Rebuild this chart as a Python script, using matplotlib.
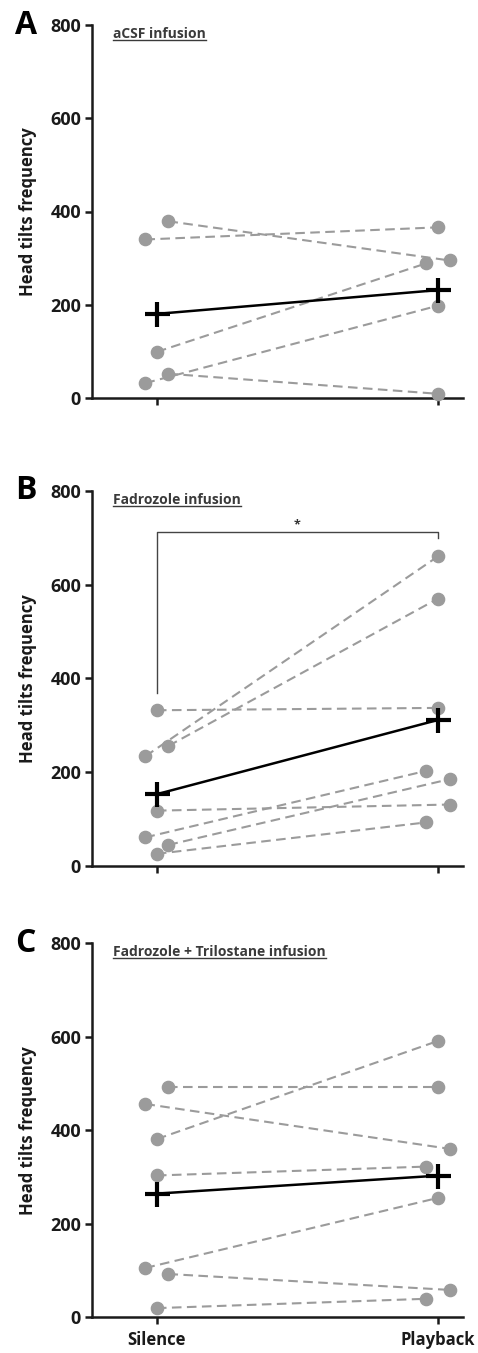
import matplotlib
matplotlib.use("Agg")
import matplotlib.pyplot as plt
import numpy as np
from matplotlib.lines import Line2D

# Head tilts frequency per bird; silence[i] is paired with playback[i]
conditions = ["Silence", "Playback"]
yticks = [0, 200, 400, 600, 800]

a_silence = [340, 379, 99, 52, 32]
a_playback = [366, 295, 289, 9, 198]

b_silence = [332, 234, 256, 118, 61, 45, 26]
b_playback = [337, 660, 570, 131, 203, 185, 93]

c_silence = [493, 456, 381, 303, 105, 92, 19]
c_playback = [493, 360, 591, 322, 255, 58, 39]

# horizontal jitter slot of each dot (-1 left, 0 centre, 1 right)
a_jit_s = [-1, 1, 0, 1, -1]
a_jit_p = [0, 1, -1, 0, 0]
b_jit_s = [0, -1, 1, 0, -1, 1, 0]
b_jit_p = [0, 0, 0, 1, -1, 1, -1]
c_jit_s = [1, -1, 0, 0, -1, 1, 0]
c_jit_p = [0, 1, 0, -1, 0, 1, -1]

# significance bracket for panel B (left foot, top, right foot)
b_bracket = [369, 713, 700]

panels = [
    ("A", "aCSF infusion", a_silence, a_playback, a_jit_s, a_jit_p),
    ("B", "Fadrozole infusion", b_silence, b_playback, b_jit_s, b_jit_p),
    ("C", "Fadrozole + Trilostane infusion", c_silence, c_playback, c_jit_s, c_jit_p),
]

JIT = 0.041
DOT = "#9b9b9b"
TXT = "#1a1a1a"

plt.rcParams.update({
    "font.family": ["Open Sans", "DejaVu Sans"],
    "font.weight": "bold",
    "font.size": 12,
})

W, H = 478, 1353
fig = plt.figure(figsize=(W / 100, H / 100), dpi=100)

# axes boxes in pixels: (left, top(800), right, bottom(0))
boxes = [(92, 25, 463, 398), (92, 490.7, 463, 866), (92, 943.3, 463, 1317)]

axes = []
for (letter, title, sil, play, js, jp), (l, t, r, b) in zip(panels, boxes):
    ax = fig.add_axes([l / W, 1 - b / H, (r - l) / W, (b - t) / H])
    axes.append(ax)
    for s, p, u, v in zip(sil, play, js, jp):
        ax.plot([0 + u * JIT, 1 + v * JIT], [s, p], color=DOT, lw=1.5,
                dashes=(4.6, 2.6), zorder=2)
        ax.plot([0 + u * JIT, 1 + v * JIT], [s, p], ls="none", marker="o",
                ms=8.8, color=DOT, mec=DOT, zorder=3, clip_on=False)
    means = [np.mean(sil), np.mean(play)]
    ax.plot([0, 1], means, color="black", lw=1.8, zorder=4)
    ax.plot([0, 1], means, ls="none", marker="+", ms=18, mew=3,
            color="black", zorder=5)

    ax.set_xlim(-0.231, 1.089)
    ax.set_ylim(0, 800)
    ax.set_yticks(yticks)
    ax.set_xticks([0, 1])
    ax.set_xticklabels(conditions if letter == "C" else ["", ""])
    for side in ("top", "right"):
        ax.spines[side].set_visible(False)
    for side in ("left", "bottom"):
        ax.spines[side].set_linewidth(1.8)
        ax.spines[side].set_color(TXT)
    ax.tick_params(axis="y", direction="out", length=5, width=1.8,
                   labelsize=13, pad=3, colors=TXT)
    ax.tick_params(axis="x", direction="out", length=5, width=1.8,
                   labelsize=12, pad=5, colors=TXT)

    ax.text(-0.1725, 0.5, "Head tilts frequency", transform=ax.transAxes,
            rotation=90, ha="center", va="center", fontsize=12, color=TXT)
    ax.text(-0.2075, 1.0, letter, transform=ax.transAxes, ha="left",
            va="center", fontsize=23, color="black")
    ttl = ax.text(0.057, 0.965, title, transform=ax.transAxes, ha="left",
                  va="baseline", fontsize=10, color="#3a3a3a")
    ax._ttl = ttl

# bracket and star on panel B
axb = axes[1]
axb.plot([0, 0, 1, 1], [b_bracket[0], b_bracket[1], b_bracket[1], b_bracket[2]],
         color="#444444", lw=1.0, zorder=1)
axb.text(0.5, b_bracket[1], "*", ha="center", va="bottom",
         fontsize=9, color="#333333")

# underline the panel titles
fig.canvas.draw()
rend = fig.canvas.get_renderer()
for ax in axes:
    bb = ax._ttl.get_window_extent(rend)
    inv = ax.transAxes.inverted()
    x0, _ = inv.transform((bb.x0, bb.y0))
    x1, _ = inv.transform((bb.x1, bb.y0))
    _, yb = inv.transform((0, bb.y0 + 1.0))
    ax.add_line(Line2D([x0, x1], [yb, yb], transform=ax.transAxes,
                       color="#3a3a3a", lw=1.0, clip_on=False))

fig.savefig("out.png", dpi=100)
